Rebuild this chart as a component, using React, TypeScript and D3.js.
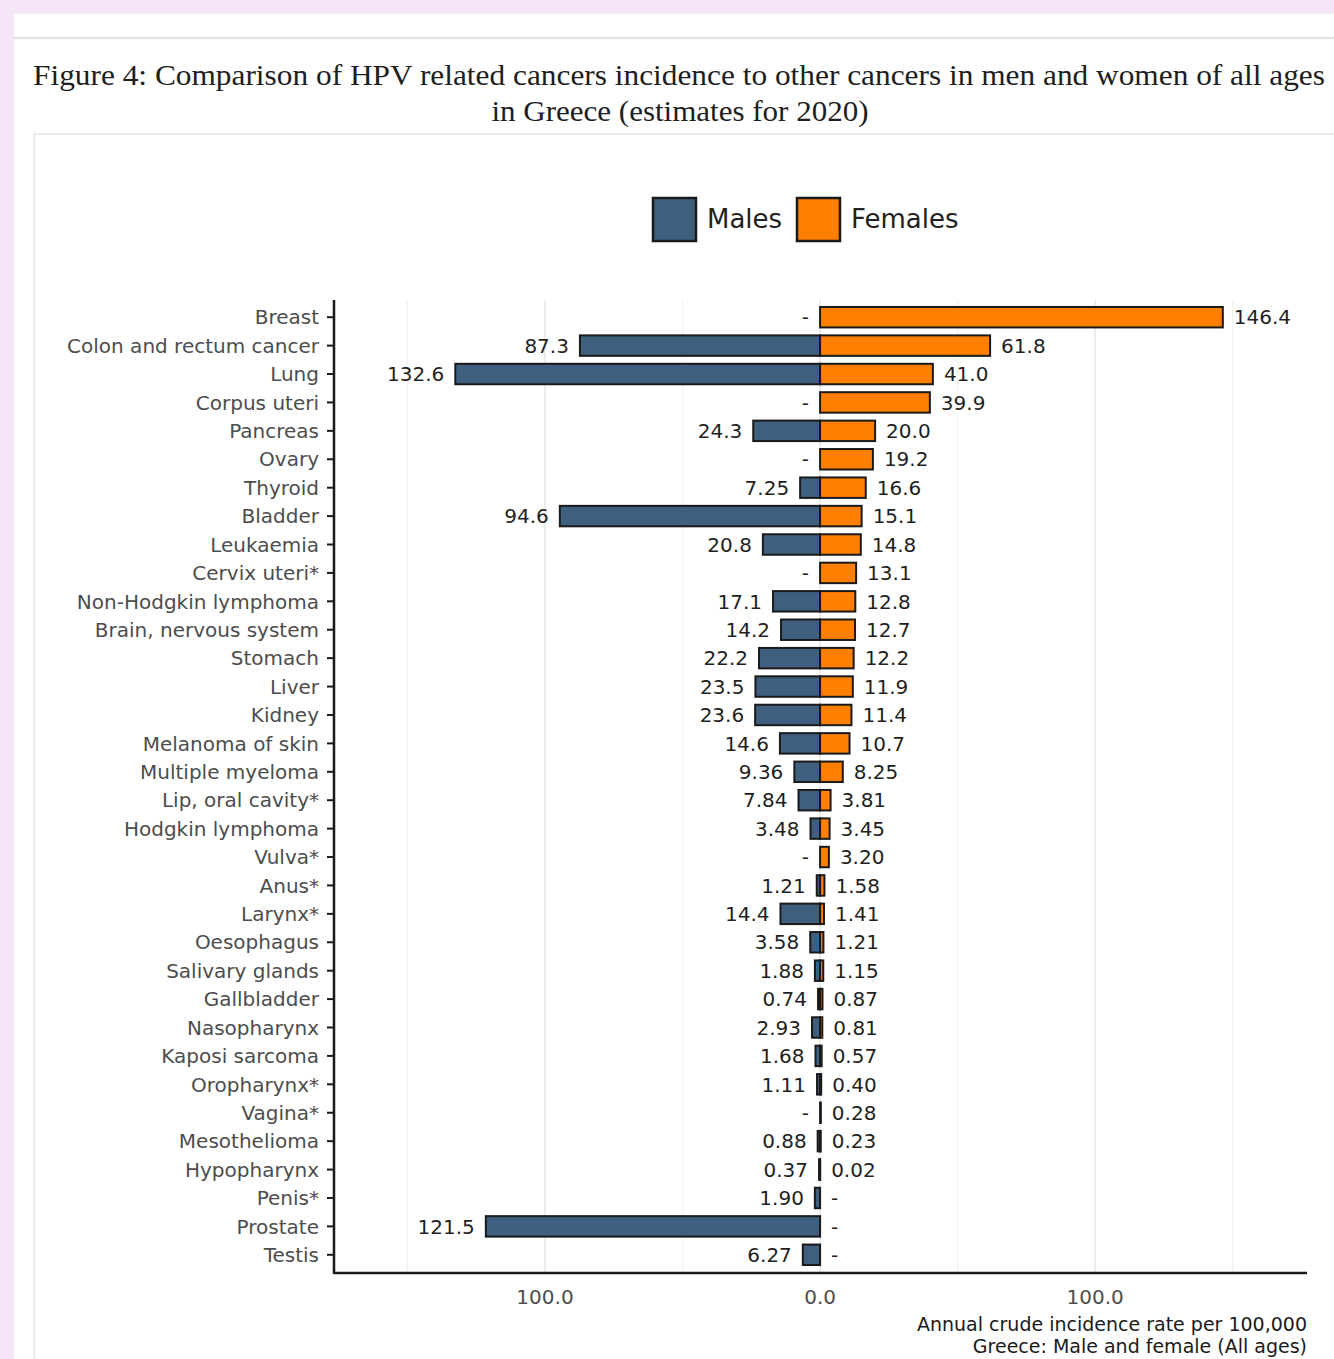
import React from "react";
import * as d3 from "d3";

const categories: string[] = [
  "Breast", "Colon and rectum cancer", "Lung", "Corpus uteri", "Pancreas", "Ovary", "Thyroid",
  "Bladder", "Leukaemia", "Cervix uteri*", "Non-Hodgkin lymphoma", "Brain, nervous system",
  "Stomach", "Liver", "Kidney", "Melanoma of skin", "Multiple myeloma", "Lip, oral cavity*",
  "Hodgkin lymphoma", "Vulva*", "Anus*", "Larynx*", "Oesophagus", "Salivary glands",
  "Gallbladder", "Nasopharynx", "Kaposi sarcoma", "Oropharynx*", "Vagina*", "Mesothelioma",
  "Hypopharynx", "Penis*", "Prostate", "Testis",
];

const males: (number | null)[] = [
  null, 87.3, 132.6, null, 24.3, null, 7.25, 94.6, 20.8, null, 17.1, 14.2, 22.2, 23.5, 23.6,
  14.6, 9.36, 7.84, 3.48, null, 1.21, 14.4, 3.58, 1.88, 0.74, 2.93, 1.68, 1.11, null, 0.88,
  0.37, 1.90, 121.5, 6.27,
];

const females: (number | null)[] = [
  146.4, 61.8, 41.0, 39.9, 20.0, 19.2, 16.6, 15.1, 14.8, 13.1, 12.8, 12.7, 12.2, 11.9, 11.4,
  10.7, 8.25, 3.81, 3.45, 3.20, 1.58, 1.41, 1.21, 1.15, 0.87, 0.81, 0.57, 0.40, 0.28, 0.23,
  0.02, null, null, null,
];

const xTicks: number[] = [-100, 0, 100];
const gridMinor: number[] = [-150, -50, 50, 150];
const seriesNames: string[] = ["Males", "Females"];
const seriesColors: string[] = ["#3f5f7f", "#ff7f00"];
const titleLines: string[] = [
  "Figure 4: Comparison of HPV related cancers incidence to other cancers in men and women of all ages",
  "in Greece (estimates for 2020)",
];
const captionLines: string[] = [
  "Annual crude incidence rate per 100,000",
  "Greece: Male and female (All ages)",
];

const fmt = (v: number | null) => (v == null ? "-" : v >= 10 ? v.toFixed(1) : v.toFixed(2));
const tickFmt = (v: number) => Math.abs(v).toFixed(1);

export default function App() {
  const W = 1334;
  const H = 1359;
  const axisLeft = 334;
  const axisRight = 1307;
  const axisTop = 300;
  const axisBottom = 1273;
  const sans = "'DejaVu Sans', sans-serif";

  const x = d3.scaleLinear().domain([-176.7, 177]).range([axisLeft, axisRight]);
  const y = d3.scaleBand<string>().domain(categories).range([303, 1269]).paddingInner(0.28).paddingOuter(0.14);
  const bh = y.bandwidth();
  const yc = (c: string) => (y(c) as number) + bh / 2;

  return (
    <svg width={W} height={H} style={{ position: "absolute", left: 0, top: 0 }} xmlns="http://www.w3.org/2000/svg">
      <rect x={0} y={0} width={W} height={H} fill="#f4e6f6" />
      <rect x={14} y={14} width={W - 14} height={H - 14} fill="#ffffff" />
      <line x1={14} x2={W} y1={38} y2={38} stroke="#e4e4e4" strokeWidth={2.5} />
      <text x={33} y={85} fontFamily="'Liberation Serif', serif" fontSize={29} fill="#1e1e1e"
        textLength={1292} lengthAdjust="spacingAndGlyphs">{titleLines[0]}</text>
      <text x={680} y={121} textAnchor="middle" fontFamily="'Liberation Serif', serif" fontSize={29} fill="#1e1e1e"
        textLength={377} lengthAdjust="spacingAndGlyphs">{titleLines[1]}</text>
      <rect x={34} y={134} width={W} height={H} fill="#fff" stroke="#ececec" strokeWidth={2} />

      {/* legend */}
      {seriesNames.map((n, i) => {
        const lx = i === 0 ? 653 : 797;
        return (
          <g key={n}>
            <rect x={lx} y={198} width={43} height={43} fill={seriesColors[i]} stroke="#1a1a1a" strokeWidth={2.5} />
            <text x={lx + 54} y={228} fontFamily={sans} fontSize={26} fill="#222">{n}</text>
          </g>
        );
      })}

      {/* grid */}
      {gridMinor.map((v) => (
        <line key={"gm" + v} x1={x(v)} x2={x(v)} y1={axisTop} y2={axisBottom} stroke="#f1f1f1" strokeWidth={1.2} />
      ))}
      {xTicks.map((v) => (
        <line key={"gM" + v} x1={x(v)} x2={x(v)} y1={axisTop} y2={axisBottom} stroke="#ebebeb" strokeWidth={1.8} />
      ))}

      {/* bars */}
      {categories.map((c, i) => {
        const m = males[i];
        const f = females[i];
        const top = y(c) as number;
        return (
          <g key={c}>
            {m != null && (
              <rect x={x(-m)} y={top} width={x(0) - x(-m)} height={bh} fill={seriesColors[0]} stroke="#1a1a1a" strokeWidth={2} />
            )}
            {f != null && (
              <rect x={x(0)} y={top} width={x(f) - x(0)} height={bh} fill={seriesColors[1]} stroke="#1a1a1a" strokeWidth={2} />
            )}
            <text x={x(-(m ?? 0)) - 11} y={yc(c)} dy="0.36em" textAnchor="end" fontFamily={sans} fontSize={20} fill="#1f1f1f">{fmt(m)}</text>
            <text x={x(f ?? 0) + 11} y={yc(c)} dy="0.36em" textAnchor="start" fontFamily={sans} fontSize={20} fill="#1f1f1f">{fmt(f)}</text>
          </g>
        );
      })}

      {/* y axis */}
      <line x1={axisLeft} x2={axisLeft} y1={axisTop} y2={axisBottom + 1} stroke="#1a1a1a" strokeWidth={2.5} />
      {categories.map((c) => (
        <g key={"t" + c}>
          <line x1={axisLeft - 7} x2={axisLeft} y1={yc(c)} y2={yc(c)} stroke="#1a1a1a" strokeWidth={2} />
          <text x={axisLeft - 15} y={yc(c)} dy="0.36em" textAnchor="end" fontFamily={sans} fontSize={20} fill="#4d4d4d">{c}</text>
        </g>
      ))}

      {/* x axis */}
      <line x1={axisLeft} x2={axisRight} y1={axisBottom} y2={axisBottom} stroke="#1a1a1a" strokeWidth={2.5} />
      {xTicks.map((v) => (
        <text key={"xt" + v} x={x(v)} y={1304} textAnchor="middle" fontFamily={sans} fontSize={20} fill="#4d4d4d">{tickFmt(v)}</text>
      ))}

      {captionLines.map((t, i) => (
        <text key={t} x={axisRight} y={1331 + i * 22} textAnchor="end" fontFamily={sans} fontSize={19} fill="#1a1a1a">{t}</text>
      ))}
    </svg>
  );
}
